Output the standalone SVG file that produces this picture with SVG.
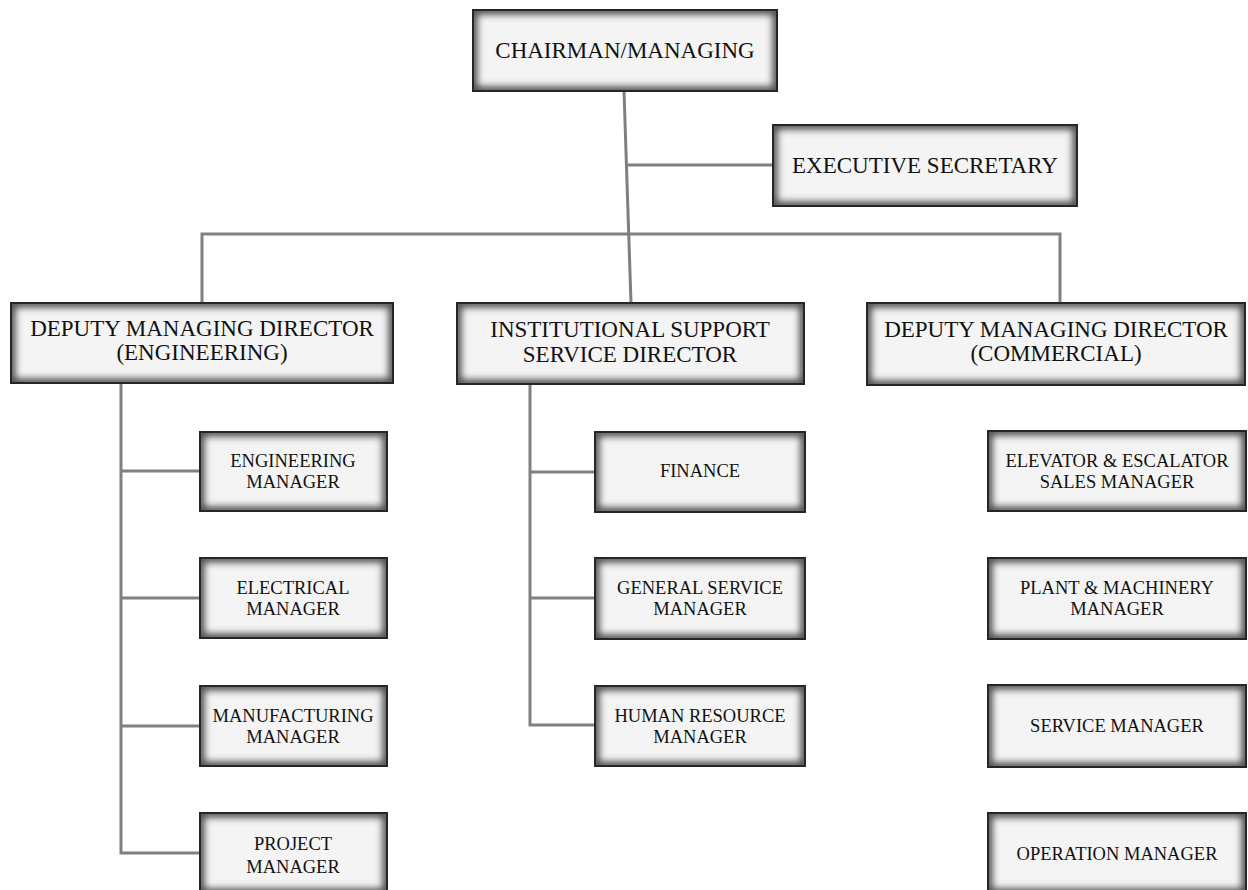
<svg xmlns="http://www.w3.org/2000/svg" width="1248" height="890" viewBox="0 0 1248 890">
<defs>
<filter id="blur" x="-20%" y="-40%" width="140%" height="180%"><feGaussianBlur stdDeviation="3.5"/></filter>
<clipPath id="clip" clipPathUnits="objectBoundingBox"><rect x="0" y="0" width="1" height="1"/></clipPath>
</defs>
<style>
.box{fill:#f4f4f4}
.glow{fill:none;stroke:#4a4a4a;stroke-width:9;filter:url(#blur);clip-path:url(#clip)}
.edge{fill:none;stroke:#262626;stroke-width:2}
.big{font-family:"Liberation Serif",serif;font-size:23px;fill:#111;text-anchor:middle}
.sm{font-family:"Liberation Serif",serif;font-size:18.5px;fill:#111;text-anchor:middle}
.conn{fill:none;stroke:#808080;stroke-width:3}
</style>
<rect width="1248" height="890" fill="#fff"/>
<g id="connectors">
<line class="conn" x1="624" y1="91" x2="631" y2="303"/>
<line class="conn" x1="626" y1="165" x2="773" y2="165"/>
<polyline class="conn" points="202,303 202,234 1060,234 1060,303"/>
<polyline class="conn" points="121,383 121,853 200,853"/>
<line class="conn" x1="121" y1="471" x2="200" y2="471"/>
<line class="conn" x1="121" y1="598" x2="200" y2="598"/>
<line class="conn" x1="121" y1="726" x2="200" y2="726"/>
<polyline class="conn" points="530,384 530,725 595,725"/>
<line class="conn" x1="530" y1="472" x2="595" y2="472"/>
<line class="conn" x1="530" y1="598" x2="595" y2="598"/>
</g>
<g id="chairman"><rect class="box" x="473" y="10" width="304" height="81"/><rect class="glow" x="473" y="10" width="304" height="81"/><rect class="edge" x="473" y="10" width="304" height="81"/><text class="big" x="625" y="58">CHAIRMAN/MANAGING</text></g>
<g id="exec-secretary"><rect class="box" x="773" y="125" width="304" height="81"/><rect class="glow" x="773" y="125" width="304" height="81"/><rect class="edge" x="773" y="125" width="304" height="81"/><text class="big" x="925" y="173">EXECUTIVE SECRETARY</text></g>
<g id="dmd-engineering"><rect class="box" x="11" y="303" width="382" height="80"/><rect class="glow" x="11" y="303" width="382" height="80"/><rect class="edge" x="11" y="303" width="382" height="80"/><text class="big" x="202" y="336">DEPUTY MANAGING DIRECTOR</text><text class="big" x="202" y="360">(ENGINEERING)</text></g>
<g id="institutional"><rect class="box" x="457" y="303" width="347" height="81"/><rect class="glow" x="457" y="303" width="347" height="81"/><rect class="edge" x="457" y="303" width="347" height="81"/><text class="big" x="630" y="337">INSTITUTIONAL  SUPPORT</text><text class="big" x="630" y="362">SERVICE DIRECTOR</text></g>
<g id="dmd-commercial"><rect class="box" x="867" y="303" width="378" height="82"/><rect class="glow" x="867" y="303" width="378" height="82"/><rect class="edge" x="867" y="303" width="378" height="82"/><text class="big" x="1056" y="337">DEPUTY MANAGING DIRECTOR</text><text class="big" x="1056" y="361">(COMMERCIAL)</text></g>
<g id="engineering-manager"><rect class="box" x="200" y="432" width="187" height="79"/><rect class="glow" x="200" y="432" width="187" height="79"/><rect class="edge" x="200" y="432" width="187" height="79"/><text class="sm" x="293" y="467">ENGINEERING</text><text class="sm" x="293" y="488">MANAGER</text></g>
<g id="electrical-manager"><rect class="box" x="200" y="558" width="187" height="80"/><rect class="glow" x="200" y="558" width="187" height="80"/><rect class="edge" x="200" y="558" width="187" height="80"/><text class="sm" x="293" y="594">ELECTRICAL</text><text class="sm" x="293" y="615">MANAGER</text></g>
<g id="manufacturing-manager"><rect class="box" x="200" y="686" width="187" height="80"/><rect class="glow" x="200" y="686" width="187" height="80"/><rect class="edge" x="200" y="686" width="187" height="80"/><text class="sm" x="293" y="722">MANUFACTURING</text><text class="sm" x="293" y="743">MANAGER</text></g>
<g id="project-manager"><rect class="box" x="200" y="813" width="187" height="80"/><rect class="glow" x="200" y="813" width="187" height="80"/><rect class="edge" x="200" y="813" width="187" height="80"/><text class="sm" x="293" y="850">PROJECT</text><text class="sm" x="293" y="873">MANAGER</text></g>
<g id="finance"><rect class="box" x="595" y="432" width="210" height="80"/><rect class="glow" x="595" y="432" width="210" height="80"/><rect class="edge" x="595" y="432" width="210" height="80"/><text class="sm" x="700" y="477">FINANCE</text></g>
<g id="general-service-manager"><rect class="box" x="595" y="558" width="210" height="81"/><rect class="glow" x="595" y="558" width="210" height="81"/><rect class="edge" x="595" y="558" width="210" height="81"/><text class="sm" x="700" y="594">GENERAL SERVICE</text><text class="sm" x="700" y="615">MANAGER</text></g>
<g id="hr-manager"><rect class="box" x="595" y="686" width="210" height="80"/><rect class="glow" x="595" y="686" width="210" height="80"/><rect class="edge" x="595" y="686" width="210" height="80"/><text class="sm" x="700" y="722">HUMAN RESOURCE</text><text class="sm" x="700" y="743">MANAGER</text></g>
<g id="elevator-sales-manager"><rect class="box" x="988" y="431" width="258" height="80"/><rect class="glow" x="988" y="431" width="258" height="80"/><rect class="edge" x="988" y="431" width="258" height="80"/><text class="sm" x="1117" y="467">ELEVATOR &amp; ESCALATOR</text><text class="sm" x="1117" y="488">SALES MANAGER</text></g>
<g id="plant-machinery-manager"><rect class="box" x="988" y="558" width="258" height="81"/><rect class="glow" x="988" y="558" width="258" height="81"/><rect class="edge" x="988" y="558" width="258" height="81"/><text class="sm" x="1117" y="594">PLANT &amp; MACHINERY</text><text class="sm" x="1117" y="615">MANAGER</text></g>
<g id="service-manager"><rect class="box" x="988" y="685" width="258" height="82"/><rect class="glow" x="988" y="685" width="258" height="82"/><rect class="edge" x="988" y="685" width="258" height="82"/><text class="sm" x="1117" y="732">SERVICE MANAGER</text></g>
<g id="operation-manager"><rect class="box" x="988" y="813" width="258" height="80"/><rect class="glow" x="988" y="813" width="258" height="80"/><rect class="edge" x="988" y="813" width="258" height="80"/><text class="sm" x="1117" y="860">OPERATION MANAGER</text></g>
</svg>
